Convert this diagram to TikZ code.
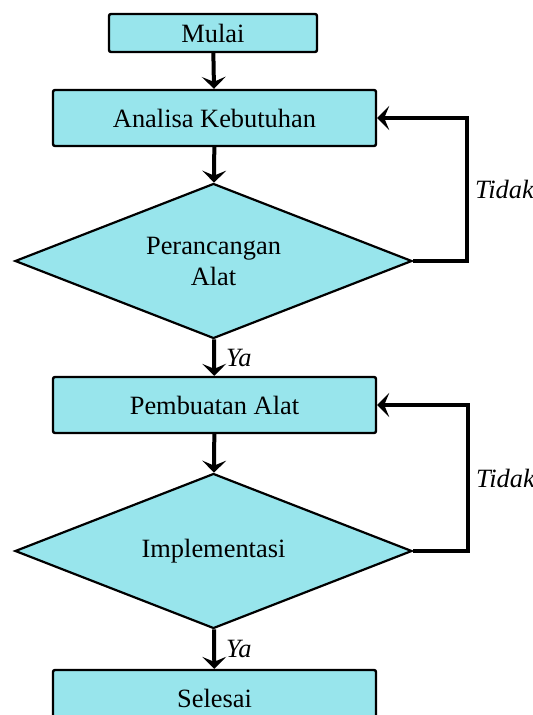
\documentclass[tikz,border=0pt]{standalone}
\usepackage{fontspec}
\setmainfont{Liberation Serif}
\usetikzlibrary{shapes.geometric,arrows.meta}
\definecolor{kotak}{RGB}{152,229,236}

\begin{document}
\begin{tikzpicture}[x=0.5pt,y=-0.5pt,
  font=\fontsize{13.2}{15.5}\selectfont,
  proses/.style={draw,line width=1.2pt,fill=kotak,rounded corners=1pt,
    minimum width=161.5pt,minimum height=28pt},
  keputusan/.style={draw,line width=1.1pt,fill=kotak,diamond,aspect=2.56,align=center,
    minimum width=198.5pt,minimum height=77.5pt,inner sep=0pt},
  alur/.style={line width=2pt,-{Stealth[length=6pt,width=12pt,inset=2.5pt]}},
  ket/.style={font=\fontsize{13.2}{15.5}\selectfont\itshape,inner sep=3pt}]
\path[use as bounding box,clip] (0,0) rectangle (532,715);
\node[proses,minimum width=104pt,minimum height=19pt] (mulai) at (213,33) {Mulai};
\node[proses] (analisa) at (214.5,118) {Analisa Kebutuhan};
\node[keputusan] (rancang) at (213.5,261) {Perancangan\\Alat};
\node[proses] (buat) at (214.5,405) {Pembuatan Alat};
\node[keputusan] (impl) at (213.5,551) {Implementasi};
\node[proses] (selesai) at (214.5,698) {Selesai};
\draw[alur] (mulai) -- (analisa);
\draw[alur] (analisa) -- (rancang);
\draw[alur] (rancang) -- (buat) node[ket,midway,right=2pt]{Ya};
\draw[alur] (buat) -- (impl);
\draw[alur] (impl) -- (selesai) node[ket,midway,right=2pt]{Ya};
\draw[alur] (rancang.east) -- ++(54,0) |- (analisa.east)
  node[ket,pos=0.25,right]{Tidak};
\draw[alur] (impl.east) -- ++(55,0) |- (buat.east)
  node[ket,pos=0.25,right]{Tidak};
\end{tikzpicture}
\end{document}
